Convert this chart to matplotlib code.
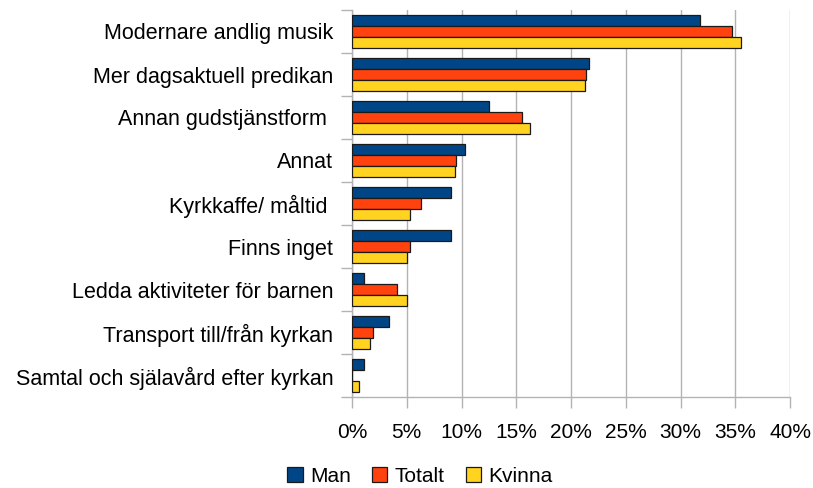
import numpy as np
import matplotlib
matplotlib.use('Agg')
import matplotlib.pyplot as plt
from matplotlib.ticker import FuncFormatter

plt.rcParams['font.family'] = ['Liberation Sans', 'DejaVu Sans']

# data (top to bottom)
categories = ['Modernare andlig musik', 'Mer dagsaktuell predikan', 'Annan gudstjänstform ',
              'Annat', 'Kyrkkaffe/ måltid ', 'Finns inget', 'Ledda aktiviteter för barnen',
              'Transport till/från kyrkan', 'Samtal och själavård efter kyrkan']
man = [31.8, 21.6, 12.5, 10.3, 9.0, 9.0, 1.1, 3.4, 1.1]
totalt = [34.7, 21.4, 15.5, 9.5, 6.3, 5.3, 4.1, 1.9, 0.0]
kvinna = [35.5, 21.3, 16.3, 9.4, 5.3, 5.0, 5.0, 1.6, 0.6]
series = [('Man', man, '#004586'), ('Totalt', totalt, '#ff420e'), ('Kvinna', kvinna, '#ffd320')]

fig = plt.figure(figsize=(8.13, 4.88), dpi=100)
ax = fig.add_axes([352/813, 1 - 397/488, 438/813, 387/488])

n = len(categories)
y = np.arange(n)
h = 0.25
for i, (name, vals, col) in enumerate(series):
    ax.barh(y - h + i * h, vals, height=h, color=col, edgecolor='#1a1a1a',
            linewidth=0.9, label=name, zorder=3)

ax.set_xlim(0, 40)
ax.set_ylim(n - 0.5, -0.5)
ax.set_xticks(np.arange(0, 41, 5))
ax.xaxis.set_major_formatter(FuncFormatter(lambda v, p: f'{v:.0f}%'))
ax.set_yticks(y)
ax.set_yticklabels(categories)
ax.set_yticks(np.arange(-0.5, n, 1), minor=True)
ax.tick_params(axis='y', which='major', length=0, pad=13.5, labelsize=15.5)
ax.tick_params(axis='y', which='minor', length=8, color='#b3b3b3', width=1)
ax.tick_params(axis='x', length=8, color='#b3b3b3', width=1, labelsize=15, pad=10.5)

ax.grid(axis='x', color='#b3b3b3', linewidth=1, zorder=0)
for s in ['top', 'right']:
    ax.spines[s].set_visible(False)
for s in ['left', 'bottom']:
    ax.spines[s].set_color('#b3b3b3')
    ax.spines[s].set_linewidth(1)

fig.legend(loc='center', bbox_to_anchor=(420/813, 1 - 476/488), ncol=3, frameon=False,
           fontsize=15, handlelength=0.75, handleheight=0.75, handletextpad=0.35,
           columnspacing=1.0, borderpad=0)

fig.savefig('out.png', dpi=100)
